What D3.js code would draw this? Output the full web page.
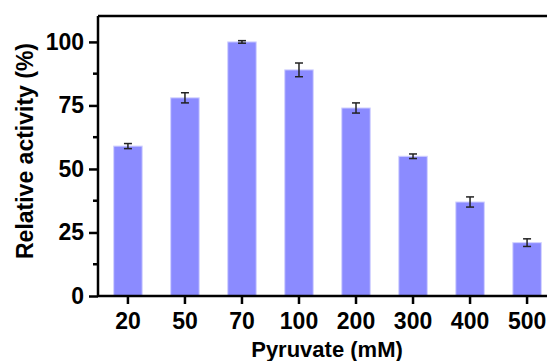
<!DOCTYPE html>
<meta charset="utf-8">
<style>
body { margin: 0; background: #fff; }
svg { display: block; font-family: "Liberation Sans", Arial, sans-serif; font-weight: bold; }
.axis path, .axis line { stroke: #000; stroke-width: 2.5px; }
.axis text { font-size: 23px; font-weight: bold; fill: #000; font-family: "Liberation Sans", Arial, sans-serif; }
</style>
<div id="chart"></div>
<script src="https://d3js.org/d3.v7.min.js"></script>
<script>

var categories = ["20", "50", "70", "100", "200", "300", "400", "500"];
var values = [59, 78, 100, 89, 74, 55, 37, 21];
var errors = [1, 2, 0.5, 2.7, 2, 0.9, 2, 1.5];
var yTicks = [0, 25, 50, 75, 100];
var yMinorTicks = [12.5, 37.5, 62.5, 87.5];

var width = 547, height = 361;
var plotLeft = 98, plotTop = 16, plotBottom = 296, plotRight = 557;

var svg = d3.select("#chart")
    .append("svg")
    .attr("width", width)
    .attr("height", height);

var x = d3.scaleBand()
    .domain(categories)
    .range([plotLeft, plotRight])
    .paddingInner(0.5)
    .paddingOuter(0.275);

var y = d3.scaleLinear()
    .domain([0, 110.2])
    .range([plotBottom, plotTop]);

// bars
svg.append("g")
  .selectAll("rect")
  .data(values)
  .enter().append("rect")
    .attr("x", function(d, i) { return x(categories[i]); })
    .attr("y", function(d) { return y(d); })
    .attr("width", x.bandwidth())
    .attr("height", function(d) { return plotBottom - y(d); })
    .attr("fill", "#8b8bff")
    .attr("stroke", "#d2d2ff")
    .attr("stroke-width", 1);

// error bars
var eb = svg.append("g")
    .attr("stroke", "#222")
    .attr("stroke-width", 1.5);
values.forEach(function(v, i) {
  var cx = x(categories[i]) + x.bandwidth() / 2;
  eb.append("line")
      .attr("x1", cx).attr("x2", cx)
      .attr("y1", y(v - errors[i])).attr("y2", y(v + errors[i]));
  [v - errors[i], v + errors[i]].forEach(function(e) {
    eb.append("line")
        .attr("x1", cx - 4).attr("x2", cx + 4)
        .attr("y1", y(e)).attr("y2", y(e));
  });
});

// top frame line
svg.append("line")
    .attr("x1", plotLeft).attr("x2", width)
    .attr("y1", plotTop).attr("y2", plotTop)
    .attr("stroke", "#000")
    .attr("stroke-width", 2.5);

// y axis
var yAxis = svg.append("g")
    .attr("class", "axis")
    .attr("transform", "translate(" + plotLeft + ",0)")
    .call(d3.axisLeft(y).tickValues(yTicks).tickSize(9).tickPadding(5).tickSizeOuter(0));
yAxis.select(".domain").attr("d", "M0," + plotTop + "V" + plotBottom);

svg.append("g")
  .selectAll("line")
  .data(yMinorTicks)
  .enter().append("line")
    .attr("x1", plotLeft - 5).attr("x2", plotLeft)
    .attr("y1", function(d) { return y(d); })
    .attr("y2", function(d) { return y(d); })
    .attr("stroke", "#000")
    .attr("stroke-width", 2.5);

// x axis
var xAxis = svg.append("g")
    .attr("class", "axis")
    .attr("transform", "translate(0," + plotBottom + ")")
    .call(d3.axisBottom(x).tickSize(8).tickPadding(9).tickSizeOuter(0));
xAxis.select(".domain").attr("d", "M" + plotLeft + ",0H" + width);

// axis titles
svg.append("text")
    .attr("x", 327)
    .attr("y", 357)
    .attr("text-anchor", "middle")
    .attr("font-size", 22)
    .text("Pyruvate (mM)");

svg.append("text")
    .attr("transform", "translate(33,151) rotate(-90)")
    .attr("text-anchor", "middle")
    .attr("font-size", 23)
    .text("Relative activity (%)");

</script>
